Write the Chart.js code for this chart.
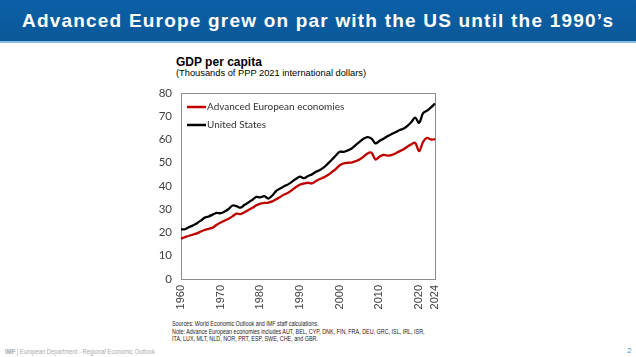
<!DOCTYPE html>
<html>
<head>
<meta charset="utf-8">
<script src="https://cdn.jsdelivr.net/npm/chart.js@4.4.1/dist/chart.umd.min.js"></script>
<style>
  html, body { margin:0; padding:0; background:#fff; }
  body { width:636px; height:357px; position:relative; overflow:hidden; font-family:"Liberation Sans", Arial, sans-serif; }
  #banner { position:absolute; left:0; top:0; width:636px; height:41px;
    background:linear-gradient(180deg,#0c60a6 0%,#0a5899 100%); }
  #bannerline { position:absolute; left:0; top:41px; width:636px; height:2px; background:#8cbce6; }
  #title { position:absolute; left:22px; top:10px; white-space:nowrap; color:#fff; font-weight:bold; font-size:19px; line-height:22px; letter-spacing:1.2px; }
  #ctitle { position:absolute; left:176px; top:55px; font-weight:bold; font-size:12px; color:#000; }
  #csub { position:absolute; left:176px; top:68px; font-size:9.3px; color:#000; }
  #wrap { position:absolute; left:140px; top:85px; width:300px; height:230px; }
  #notes { position:absolute; left:172px; top:320px; font-size:6.6px; line-height:7.7px; color:#222; white-space:nowrap; transform:scaleX(0.82); transform-origin:0 0; }
  #foot { position:absolute; left:5px; top:348px; font-size:6.5px; color:#aaa; white-space:nowrap; transform:scaleX(0.9); transform-origin:0 0; }
  #page { position:absolute; left:627px; top:346px; font-size:8px; color:#3f9ad6; }
</style>
</head>
<body>
<div id="banner"></div>
<div id="bannerline"></div>
<div id="title">Advanced Europe grew on par with the US until the 1990’s</div>
<div id="ctitle">GDP per capita</div>
<div id="csub">(Thousands of PPP 2021 international dollars)</div>
<div id="wrap"><canvas id="c" width="300" height="230"></canvas></div>
<div id="notes">Sources: World Economic Outlook and IMF staff calculations.<br>Note: Advance European economies includes AUT, BEL, CYP, DNK, FIN, FRA, DEU, GRC, ISL, IRL, ISR,<br>ITA, LUX, MLT, NLD, NOR, PRT, ESP, SWE, CHE, and GBR.</div>
<div id="foot"><b>IMF</b> | European Department - Regional Economic Outlook</div>
<div id="page">2</div>
<script>
const years = [1960,1961,1962,1963,1964,1965,1966,1967,1968,1969,
  1970,1971,1972,1973,1974,1975,1976,1977,1978,1979,
  1980,1981,1982,1983,1984,1985,1986,1987,1988,1989,
  1990,1991,1992,1993,1994,1995,1996,1997,1998,1999,
  2000,2001,2002,2003,2004,2005,2006,2007,2008,2009,
  2010,2011,2012,2013,2014,2015,2016,2017,2018,2019,
  2020,2021,2022,2023,2024];
const tickYears = [1960,1970,1980,1990,2000,2010,2020,2024];
const europe = [17.4,18.0,18.6,19.1,19.6,20.4,21.1,21.6,22.1,23.3,
  24.3,25.1,25.9,27.0,28.1,27.9,28.7,29.7,30.6,31.7,
  32.4,32.7,32.9,33.4,34.3,35.3,36.3,37.1,38.3,39.6,
  40.6,41.1,41.4,41.1,42.1,43.0,43.7,44.7,46.0,47.3,
  48.9,49.7,50.0,50.1,50.7,51.4,52.6,54.0,54.3,51.4,
  52.6,53.4,53.1,53.3,54.0,54.9,55.7,56.9,57.9,58.6,
  55.0,59.0,60.7,60.0,60.1];
const us = [21.4,21.4,22.3,23.0,24.0,25.1,26.4,26.9,27.7,28.4,
  28.3,29.0,30.1,31.6,31.3,30.7,31.9,32.9,34.1,35.3,
  35.1,35.6,34.6,35.9,37.9,38.9,39.9,40.7,41.9,43.1,
  44.0,43.4,44.3,45.0,46.1,46.9,48.0,49.6,51.3,53.1,
  54.7,54.7,55.3,56.1,57.6,59.0,60.3,61.0,60.4,58.3,
  59.4,60.3,61.4,62.3,63.1,64.0,64.6,65.8,67.4,69.4,
  67.2,71.3,72.4,73.8,75.5];
const seriesNames = ["Advanced European economies","United States"];
const yTicks = [0,10,20,30,40,50,60,70,80];

const boxPlugin = {
  id:'box',
  beforeDatasetsDraw(chart){
    const {ctx, chartArea:a} = chart;
    ctx.save();
    ctx.strokeStyle = '#8c8c8c';
    ctx.lineWidth = 1;
    ctx.strokeRect(Math.round(a.left)+0.5, Math.round(a.top)+0.5, Math.round(a.right-a.left), Math.round(a.bottom-a.top));
    ctx.restore();
  }
};
const legendPlugin = {
  id:'inlegend',
  afterDatasetsDraw(chart){
    const {ctx, chartArea:a} = chart;
    ctx.save();
    ctx.font = '10px Lato, "Noto Sans", sans-serif';
    ctx.textBaseline = 'middle';
    chart.data.datasets.forEach((ds,i)=>{
      const y = a.top + 14 + i*18;
      ctx.strokeStyle = ds.borderColor;
      ctx.lineWidth = 2.5;
      ctx.beginPath();
      ctx.moveTo(a.left+6, y);
      ctx.lineTo(a.left+25, y);
      ctx.stroke();
      ctx.fillStyle = '#333';
      ctx.fillText(ds.label, a.left+26, y);
    });
    ctx.restore();
  }
};

new Chart(document.getElementById('c'), {
  type:'line',
  data:{
    labels: years,
    datasets:[
      {label:seriesNames[0], data:europe, borderColor:'#c00000', borderWidth:2.3, pointRadius:0, tension:0.35, fill:false},
      {label:seriesNames[1], data:us, borderColor:'#000000', borderWidth:2.3, pointRadius:0, tension:0.35, fill:false}
    ]
  },
  options:{
    responsive:false,
    animation:false,
    layout:{padding:{top:8,right:5,left:0,bottom:0}},
    plugins:{legend:{display:false}, tooltip:{enabled:false}},
    scales:{
      x:{
        type:'category',
        offset:false,
        grid:{display:false, drawTicks:false},
        border:{display:false},
        ticks:{
          autoSkip:false, maxRotation:90, minRotation:90, padding:6,
          color:'#404040', font:{family:'"Liberation Sans", Arial, sans-serif', size:11},
          callback:function(v, i){ const yr = years[i]; return tickYears.includes(yr) ? String(yr) : null; }
        },
        afterFit(s){ s.height = 36; s.paddingLeft = 0; s.paddingRight = 0; }
      },
      y:{
        min:0, max:80,
        grid:{display:false, drawTicks:false},
        border:{display:false},
        afterBuildTicks(s){ s.ticks = yTicks.map(v=>({value:v})); },
        ticks:{ padding:9, color:'#404040', font:{family:'Lato, "Noto Sans", sans-serif', size:11.5} },
        afterFit(s){ s.width = 41; s.paddingTop = 0; s.paddingBottom = 0; }
      }
    }
  },
  plugins:[boxPlugin, legendPlugin]
});
</script>
</body>
</html>
